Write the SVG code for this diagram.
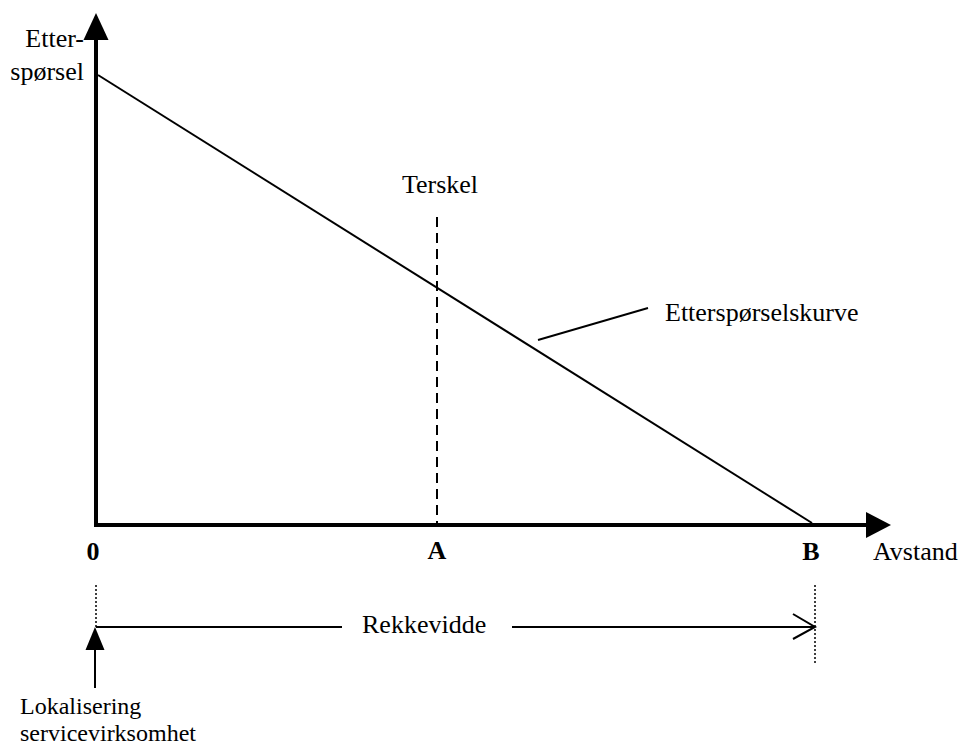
<svg xmlns="http://www.w3.org/2000/svg" width="962" height="747" viewBox="0 0 962 747" font-family="'Liberation Serif', 'DejaVu Serif', serif">
<style>
text{font-family:'Liberation Serif','DejaVu Serif',serif;font-size:26px;fill:#000}
.b{font-weight:bold}
.s{font-size:24px}
.ax{stroke:#000;stroke-width:4;fill:none}
.ln{stroke:#000;stroke-width:2;fill:none}
.dot{stroke:#000;stroke-width:1.5;stroke-dasharray:2 2;fill:none}
</style>
<rect width="962" height="747" fill="#fff"/>
<g id="axes">
<path class="ax" d="M96 40 V525 H866"/>
<polygon points="96,13 83.5,40 108.5,40" fill="#000"/>
<polygon points="891,525 866,512 866,538" fill="#000"/>
</g>
<g id="connectors">
<line id="demand-curve" class="ln" x1="98" y1="75" x2="812" y2="523"/>
<line id="threshold" class="ln" x1="437" y1="217" x2="437" y2="523" stroke-dasharray="10 6"/>
<line id="leader" class="ln" x1="538" y1="340" x2="648" y2="308"/>
<line class="dot" x1="96" y1="585" x2="96" y2="627"/>
<line class="dot" x1="815" y1="585" x2="815" y2="665"/>
<line class="ln" x1="96" y1="627" x2="342" y2="627"/>
<line class="ln" x1="512" y1="627" x2="814" y2="627"/>
<polyline class="ln" points="793,614 815,627 793,639"/>
<line class="ln" x1="95" y1="648" x2="95" y2="688"/>
<polygon points="95,627 85.5,650 104.5,650" fill="#000"/>
</g>
<g id="label-y"><text x="84" y="47" text-anchor="end">Etter-</text><text x="84" y="80" text-anchor="end">spørsel</text></g>
<g id="label-terskel"><text x="440" y="193" text-anchor="middle">Terskel</text></g>
<g id="label-curve"><text x="665" y="321">Etterspørselskurve</text></g>
<g id="label-0"><text class="b" x="93" y="560" text-anchor="middle">0</text></g>
<g id="label-A"><text class="b" x="437" y="559" text-anchor="middle">A</text></g>
<g id="label-B"><text class="b" x="811" y="560" text-anchor="middle">B</text></g>
<g id="label-avstand"><text x="873" y="560">Avstand</text></g>
<g id="label-rekkevidde"><text x="362" y="633">Rekkevidde</text></g>
<g id="label-lok"><text class="s" x="20" y="714">Lokalisering</text><text class="s" x="20" y="741">servicevirksomhet</text></g>
</svg>
